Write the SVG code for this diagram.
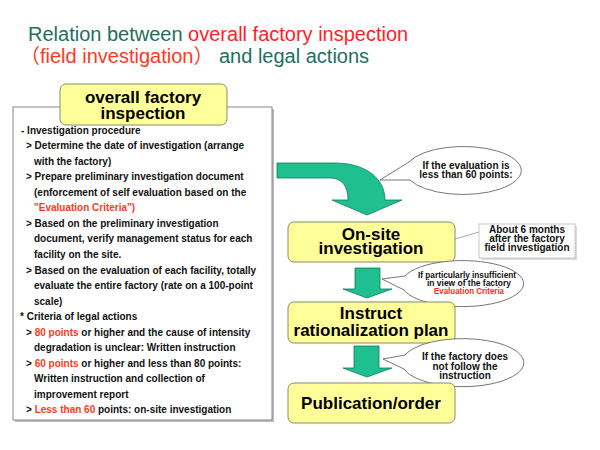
<svg xmlns="http://www.w3.org/2000/svg" width="600" height="450" viewBox="0 0 600 450">
<style>
.title{font-family:"Liberation Sans",Arial,"Noto Sans CJK JP",sans-serif;font-size:20px}
.teal{fill:#1d6f63}
.red{fill:#ff1f1f}
.ored{fill:#ff3a1c}
.body{font-family:"Liberation Sans",Arial,sans-serif;font-size:10px;font-weight:bold;fill:#111}
.hl{fill:#ff3a1c}
.big{font-family:"Liberation Sans",Arial,sans-serif;font-size:17px;font-weight:bold;fill:#000;text-anchor:middle}
.small{font-family:"Liberation Sans",Arial,sans-serif;font-size:10px;font-weight:bold;fill:#111;text-anchor:middle}
.tiny{font-family:"Liberation Sans",Arial,sans-serif;font-size:8.5px;font-weight:bold;fill:#111;text-anchor:middle}
.ybox{fill:#ffff99;stroke:#8a8a6a;stroke-width:1}
.arrow{fill:#1fbf8f;stroke:#137a5c;stroke-width:0.8}
.bubble{fill:#fff;stroke:#666;stroke-width:0.9}
</style>

<g id="title">
<text class="title" x="28" y="41"><tspan class="teal">Relation between </tspan><tspan class="red">overall factory inspection</tspan></text>
<text class="title" x="20" y="63"><tspan class="ored">（field investigation）</tspan><tspan class="teal"> and legal actions</tspan></text>
</g>

<g id="procedure-box">
<rect x="15" y="109" width="259" height="313" fill="#bbb"/>
<rect x="13" y="107" width="259" height="313" fill="#fff" stroke="#888" stroke-width="1"/>
<text class="body" x="21" y="133.5">- Investigation procedure</text>
<text class="body" x="26" y="149.1">&gt; Determine the date of investigation (arrange</text>
<text class="body" x="34" y="164.6">with the factory)</text>
<text class="body" x="26" y="180.2">&gt; Prepare preliminary investigation document</text>
<text class="body" x="34" y="195.7">(enforcement of self evaluation based on the</text>
<text class="body" x="34" y="211.3"><tspan class="hl">"Evaluation Criteria")</tspan></text>
<text class="body" x="26" y="226.8">&gt; Based on the preliminary investigation</text>
<text class="body" x="34" y="242.4">document, verify management status for each</text>
<text class="body" x="34" y="257.9">facility  on the site.</text>
<text class="body" x="26" y="273.5">&gt; Based on the evaluation of each facility, totally</text>
<text class="body" x="34" y="289">evaluate the entire factory (rate on a 100-point</text>
<text class="body" x="34" y="304.6">scale)</text>
<text class="body" x="20" y="320.1">* Criteria of legal actions</text>
<text class="body" x="26" y="335.7">&gt; <tspan class="hl">80 points</tspan> or higher and the cause of intensity</text>
<text class="body" x="34" y="351.2">degradation is unclear: Written instruction</text>
<text class="body" x="26" y="366.8">&gt; <tspan class="hl">60 points</tspan> or higher and less than 80 points:</text>
<text class="body" x="34" y="382.3">Written instruction and collection of</text>
<text class="body" x="34" y="397.9">improvement report</text>
<text class="body" x="26" y="413.4">&gt; <tspan class="hl">Less than 60</tspan> points: on-site investigation</text>
</g>

<g id="overall-factory-inspection">
<rect class="ybox" x="60" y="84" width="167" height="41" rx="6"/>
<text class="big" x="143" y="103">overall factory</text>
<text class="big" x="143" y="118.5">inspection</text>
</g>

<g id="connectors">
<path class="arrow" d="M277,163 L335,163 C365,163 385,178 385,200 L402,200 L367,215 L332,200 L348,200 C348,186 342,178 330,178 L277,178 Z"/>
<path class="arrow" d="M355,268 L380,268 L380,289 L392,289 L367,298 L343,289 L355,289 Z"/>
<path class="arrow" d="M354,346 L379,346 L379,368 L392,368 L367,377 L343,368 L354,368 Z"/>
<line x1="455" y1="239" x2="479" y2="232" stroke="#aaa" stroke-width="1"/>
</g>

<g id="bubble-60">
<path class="bubble" d="M409,162 A58,24 0 1 1 410,180 L380,180 Z"/>
<text class="small" x="466" y="168.5">If the evaluation is</text>
<text class="small" x="466" y="177.5">less than 60 points:</text>
</g>

<g id="on-site-investigation">
<rect class="ybox" x="288" y="222" width="167" height="40" rx="6"/>
<text class="big" x="371" y="240">On-site</text>
<text class="big" x="371" y="254">investigation</text>
</g>

<g id="note-6-months">
<rect x="481" y="226" width="96" height="34" fill="#ddd"/>
<rect x="479" y="224" width="96" height="34" fill="#fff" stroke="#bbb" stroke-width="0.8"/>
<text class="small" x="527" y="232.5">About 6 months</text>
<text class="small" x="527" y="241.5">after the factory</text>
<text class="small" x="527" y="250.5">field investigation</text>
</g>

<g id="bubble-criteria">
<path class="bubble" d="M405,276 A61,23 0 1 1 404,290 L382,279 Z"/>
<text class="tiny" x="467" y="277.5" textLength="98" lengthAdjust="spacingAndGlyphs">If particularly insufficient</text>
<text class="tiny" x="469" y="285.5" textLength="84" lengthAdjust="spacingAndGlyphs">in view of the factory</text>
<text class="tiny" x="469" y="293.5" textLength="70" lengthAdjust="spacingAndGlyphs" style="fill:#ff2a1a">Evaluation Criteria</text>
</g>

<g id="instruct-rationalization-plan">
<rect class="ybox" x="288" y="302" width="167" height="41" rx="6"/>
<text class="big" x="371" y="319">Instruct</text>
<text class="big" x="371" y="336">rationalization plan</text>
</g>

<g id="bubble-not-follow">
<path class="bubble" d="M405,355 A61,24 0 1 1 404,369 L383,359 Z"/>
<text class="small" x="465" y="360">If the factory does</text>
<text class="small" x="465" y="369.5">not follow the</text>
<text class="small" x="465" y="378.5">instruction</text>
</g>

<g id="publication-order">
<rect class="ybox" x="288" y="383" width="167" height="40" rx="6"/>
<text class="big" x="371" y="409">Publication/order</text>
</g>
</svg>
